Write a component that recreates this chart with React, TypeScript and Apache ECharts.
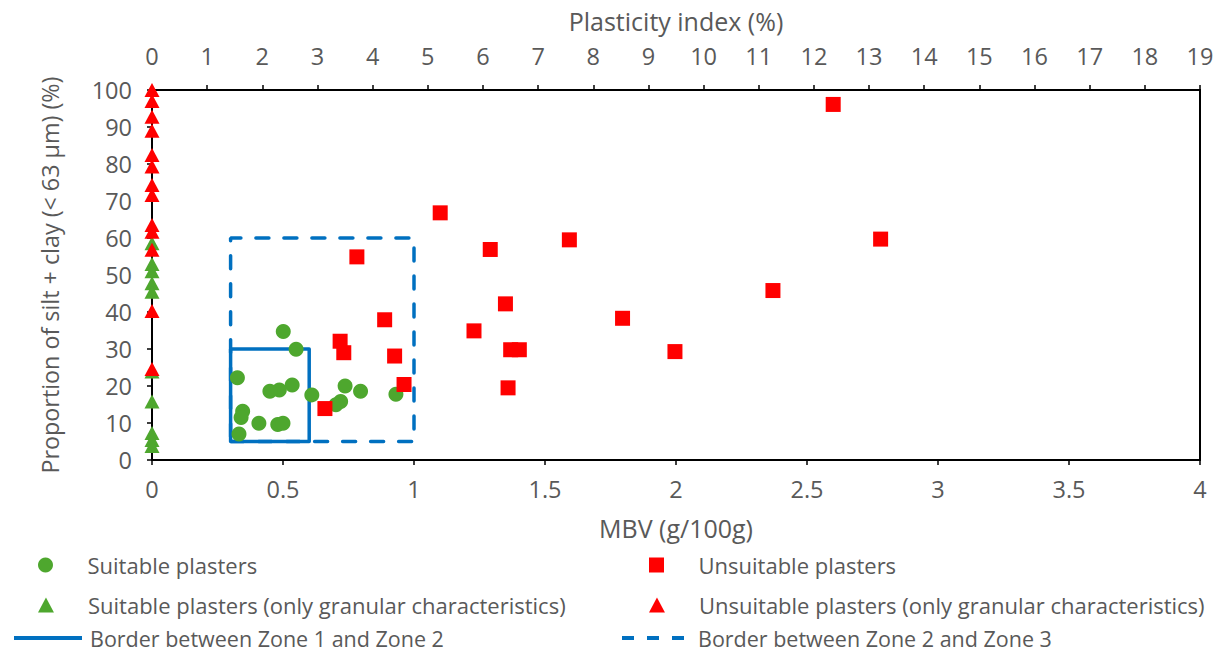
import React, { useEffect, useRef } from "react";
import * as echarts from "echarts";

const suitableMBV = [0.326, 0.501, 0.55, 0.535, 0.486, 0.45, 0.61, 0.346, 0.34, 0.408, 0.48, 0.5, 0.332, 0.737, 0.796, 0.72, 0.702, 0.931];
const suitableFines = [22.2, 34.7, 29.9, 20.3, 18.9, 18.6, 17.6, 13.2, 11.5, 9.9, 9.6, 9.9, 7.0, 20.0, 18.6, 15.8, 14.9, 17.8];

const unsuitableMBV = [1.1, 0.782, 1.291, 1.593, 1.349, 0.888, 1.229, 0.718, 0.732, 0.926, 1.369, 1.402, 1.996, 0.962, 1.359, 0.66, 2.6, 2.781, 2.37, 1.796];
const unsuitableFines = [66.8, 54.9, 56.9, 59.5, 42.2, 37.9, 34.9, 32.1, 29.0, 28.1, 29.8, 29.8, 29.3, 20.4, 19.5, 13.9, 96.1, 59.7, 45.8, 38.3];

const suitableGranularFines = [58.6, 53, 51, 47.8, 45.5, 23.9, 15.8, 7.3, 5.4, 3.8];
const unsuitableGranularFines = [100, 97, 92.8, 89, 82.4, 79.3, 74.3, 71.6, 63.5, 61.7, 56.8, 40.3, 24.6];

const zone12MBV = [0.3, 0.6, 0.6, 0.3, 0.3];
const zone12Fines = [5, 5, 30, 30, 5];
const zone23MBV = [0.3, 1.0, 1.0, 0.3, 0.3];
const zone23Fines = [5, 5, 60, 60, 5];

const mbvTicks = ["0", "0.5", "1", "1.5", "2", "2.5", "3", "3.5", "4"];

const GREEN = "#4EA72E";
const RED = "#FF0000";
const BLUE = "#0070C0";
const TXT = "#595959";
const FONT = "Open Sans";
const FS = 22;
const TICK_FS = 23.5;

const names = {
  s: "Suitable plasters",
  u: "Unsuitable plasters",
  sg: "Suitable plasters (only granular characteristics)",
  ug: "Unsuitable plasters (only granular characteristics)",
  z12: "Border between Zone 1 and Zone 2",
  z23: "Border between Zone 2 and Zone 3",
};

const SQUARE = "path://M0,0L10,0L10,10L0,10Z";
const TRI = "path://M5,0L10,9.4L0,9.4Z";

function legendItem(name: string, left: number, centerY: number, icon?: string, w = 68, isLine = false, dashed = false) {
  const o: any = {
    show: true,
    left,
    top: centerY - 10,
    orient: "horizontal",
    itemWidth: w,
    itemHeight: 15,
    itemGap: 0,
    padding: 0,
    selectedMode: false,
    textStyle: { color: TXT, fontSize: isLine ? 21.5 : FS, fontFamily: FONT, lineHeight: 20, padding: [0, 0, 0, 3] },
    data: [icon ? { name, icon } : { name }],
  };
  if (isLine) {
    o.itemStyle = { opacity: 0 };
    o.lineStyle = { width: 4, color: BLUE, type: dashed ? [12, 13] : "solid", cap: "butt" };
  }
  return o;
}

export default function App() {
  const ref = useRef<HTMLDivElement>(null);
  useEffect(() => {
    if (!ref.current) return;
    const chart = echarts.init(ref.current, undefined, { renderer: "svg" });
    const pair = (xs: number[], ys: number[]) => xs.map((x, i) => [x, ys[i]]);
    chart.setOption({
      animation: false,
      backgroundColor: "#ffffff",
      textStyle: { fontFamily: FONT },
      grid: { left: 152, right: 20, top: 90, bottom: 193, show: true, borderColor: "#000", borderWidth: 2 },
      legend: [
        legendItem(names.s, 38, 564),
        legendItem(names.u, 649, 564, SQUARE),
        legendItem(names.sg, 38, 604, TRI),
        legendItem(names.ug, 649, 604, TRI),
        legendItem(names.z12, 12, 637, undefined, 68, true, false),
        legendItem(names.z23, 620, 637, undefined, 68, true, true),
      ],
      xAxis: [
        {
          type: "value",
          position: "bottom",
          min: 0,
          max: 4,
          interval: 0.5,
          name: "MBV (g/100g)",
          nameLocation: "middle",
          nameGap: 55,
          nameTextStyle: { color: TXT, fontSize: 25, fontFamily: FONT },
          axisLine: { show: true, lineStyle: { color: "#000", width: 2 } },
          axisTick: { show: true, length: 5, lineStyle: { color: "#000", width: 1.5 } },
          axisLabel: { color: TXT, fontSize: TICK_FS, fontFamily: FONT, margin: 17, formatter: (v: number) => mbvTicks[Math.round(v * 2)] ?? String(v) },
          splitLine: { show: false },
        },
        {
          type: "value",
          position: "top",
          min: 0,
          max: 19,
          interval: 1,
          name: "Plasticity index (%)",
          nameLocation: "middle",
          nameGap: 56.5,
          nameTextStyle: { color: TXT, fontSize: 25, fontFamily: FONT },
          axisLine: { show: true, lineStyle: { color: "#000", width: 2 } },
          axisTick: { show: true, length: 5, lineStyle: { color: "#000", width: 1.5 } },
          axisLabel: { color: TXT, fontSize: TICK_FS, fontFamily: FONT, margin: 22 },
          splitLine: { show: false },
        },
      ],
      yAxis: {
        type: "value",
        min: 0,
        max: 100,
        interval: 10,
        name: "Proportion of silt + clay (< 63 µm) (%)",
        nameLocation: "middle",
        nameGap: 91,
        nameTextStyle: { color: TXT, fontSize: 23.3, fontFamily: FONT },
        axisLine: { show: true, lineStyle: { color: "#000", width: 2 } },
        axisTick: { show: true, length: 5, lineStyle: { color: "#000", width: 1.5 } },
        axisLabel: { color: TXT, fontSize: TICK_FS, fontFamily: FONT, margin: 20 },
        splitLine: { show: false },
      },
      series: [
        {
          name: names.z12,
          type: "line",
          xAxisIndex: 0,
          data: pair(zone12MBV, zone12Fines),
          symbol: "none",
          itemStyle: { color: BLUE },
          lineStyle: { color: BLUE, width: 3.5, type: "solid", join: "round" },
          z: 1,
        },
        {
          name: names.z23,
          type: "line",
          xAxisIndex: 0,
          data: pair(zone23MBV, zone23Fines),
          symbol: "none",
          itemStyle: { color: BLUE },
          lineStyle: { color: BLUE, width: 3.5, type: [13, 15], cap: "round", dashOffset: 0 },
          z: 1,
        },
        {
          name: names.s,
          type: "scatter",
          data: pair(suitableMBV, suitableFines),
          symbol: "circle",
          symbolSize: 15,
          itemStyle: { color: GREEN, opacity: 1 },
          z: 3,
        },
        {
          name: names.u,
          type: "scatter",
          data: pair(unsuitableMBV, unsuitableFines),
          symbol: "rect",
          symbolSize: 15,
          itemStyle: { color: RED, opacity: 1 },
          z: 4,
        },
        {
          name: names.sg,
          type: "scatter",
          data: suitableGranularFines.map((y) => [0, y]),
          symbol: "triangle",
          symbolSize: [15, 14],
          itemStyle: { color: GREEN, opacity: 1 },
          z: 3,
          clip: false,
        },
        {
          name: names.ug,
          type: "scatter",
          data: unsuitableGranularFines.map((y) => [0, y]),
          symbol: "triangle",
          symbolSize: [15, 14],
          itemStyle: { color: RED, opacity: 1 },
          z: 4,
          clip: false,
        },
      ],
    });
    return () => chart.dispose();
  }, []);
  return <div ref={ref} style={{ position: "fixed", left: 0, top: 0, width: 1220, height: 653 }} />;
}
